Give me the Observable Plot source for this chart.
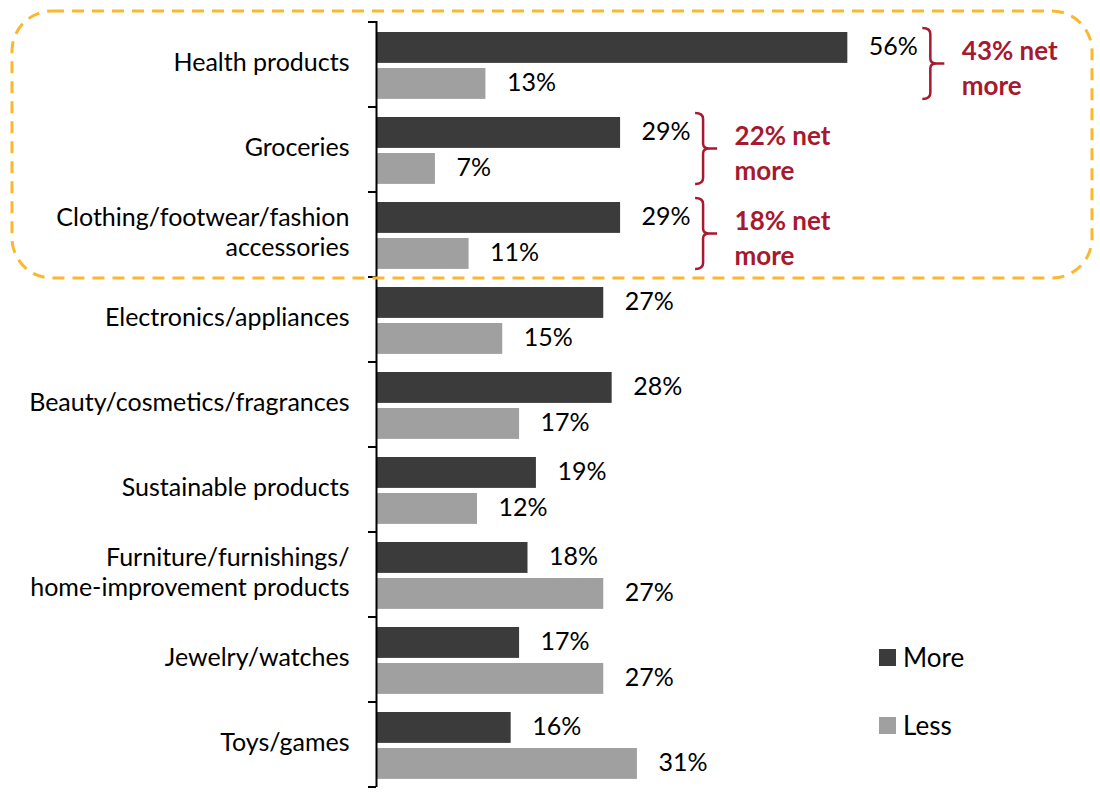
<!DOCTYPE html>
<html><head><meta charset="utf-8">
<script src="https://cdn.jsdelivr.net/npm/d3@7"></script>
<script src="https://cdn.jsdelivr.net/npm/@observablehq/plot@0.6"></script>
<style>
body{margin:0;background:#fff;font-family:Lato, sans-serif;}
#wrap{position:relative;width:1100px;height:797px;}
.legend{position:absolute;left:879px;top:644px;font-size:26px;color:#000;font-family:Lato, sans-serif;}
.item{display:flex;align-items:center;height:26px;margin-bottom:42px;}
.sw{width:17px;height:17px;margin-right:7px;}
</style></head><body><div id="wrap"></div>
<script>
const categories = [
  "Health products",
  "Groceries",
  "Clothing/footwear/fashion\naccessories",
  "Electronics/appliances",
  "Beauty/cosmetics/fragrances",
  "Sustainable products",
  "Furniture/furnishings/\nhome-improvement products",
  "Jewelry/watches",
  "Toys/games"
];
const moreValues = [56, 29, 29, 27, 28, 19, 18, 17, 16];
const lessValues = [13, 7, 11, 15, 17, 12, 27, 27, 31];
const series = ["More", "Less"];
const seriesColors = ["#3b3b3b", "#a0a0a0"];
const highlighted = categories.slice(0, 3);

const moreRows = categories.map((c, i) => ({category: c, value: moreValues[i]}));
const lessRows = categories.map((c, i) => ({category: c, value: lessValues[i]}));
const netRows = highlighted.map((c) => {
  const i = categories.indexOf(c);
  return {category: c, more: moreValues[i], less: lessValues[i]};
});

const red = "#a6192e";

function decorations(index, scales, values, dimensions) {
  const {x, y} = scales;
  const step = y(categories[1]) - y(categories[0]);
  const g = d3.create("svg:g");
  const x0 = x(0);
  const bounds = categories.map(c => y(c)).concat([y(categories[categories.length - 1]) + step]);
  g.selectAll("line.bt").data(bounds).join("line")
    .attr("x1", x0 - 8).attr("x2", x0).attr("y1", d => d).attr("y2", d => d)
    .attr("stroke", "#000").attr("stroke-width", 2);
  const top = y(highlighted[0]) - 11;
  const bottom = y(highlighted[highlighted.length - 1]) + step + 1;
  g.append("rect")
    .attr("x", 12).attr("y", top)
    .attr("width", dimensions.width - 20).attr("height", bottom - top)
    .attr("rx", 40).attr("ry", 40)
    .attr("fill", "none").attr("stroke", "#fbb82e").attr("stroke-width", 3)
    .attr("stroke-dasharray", "12 8");
  netRows.forEach(d => {
    const bx = x(d.more) + 75;
    const yt = y(d.category) + 6;
    const yb = y(d.category) + 77;
    const ym = (yt + yb) / 2;
    const p = `M${bx},${yt} Q${bx + 8},${yt} ${bx + 8},${yt + 6} L${bx + 8},${ym - 5} Q${bx + 8},${ym} ${bx + 14},${ym} L${bx + 22},${ym} M${bx + 14},${ym} Q${bx + 8},${ym} ${bx + 8},${ym + 5} L${bx + 8},${yb - 6} Q${bx + 8},${yb} ${bx},${yb}`;
    g.append("path").attr("d", p).attr("fill", "none").attr("stroke", red).attr("stroke-width", 2.5);
  });
  return g.node();
}

const chart = Plot.plot({
  width: 1100,
  height: 797,
  marginLeft: 376,
  marginRight: 219,
  marginTop: 21,
  marginBottom: 10,
  x: {domain: [0, 60], axis: null},
  y: {domain: categories, padding: 0},
  style: {fontFamily: "Lato, sans-serif", background: "white", color: "black"},
  marks: [
    Plot.barX(moreRows, {x: "value", y: "category", fill: seriesColors[0], insetTop: 10, insetBottom: 44.1}),
    Plot.barX(lessRows, {x: "value", y: "category", fill: seriesColors[1], insetTop: 46, insetBottom: 8.1}),
    Plot.ruleX([0], {stroke: "#000", strokeWidth: 2}),
    Plot.axisY({tickSize: 0, tickPadding: 27, fontSize: 25, lineHeight: 1.2, label: null, fill: "#000", dy: -4}),
    Plot.text(moreRows, {x: "value", y: "category", text: d => d.value + "%", dx: 21, dy: -18, textAnchor: "start", fontSize: 25, fill: "#000"}),
    Plot.text(lessRows, {x: "value", y: "category", text: d => d.value + "%", dx: 21, dy: 18, textAnchor: "start", fontSize: 25, fill: "#000"}),
    Plot.text(netRows, {x: "more", y: "category", text: d => `${d.more - d.less}% net\nmore`, dx: 114, dy: 1, textAnchor: "start", fontSize: 26, fontWeight: "bold", fill: red, lineHeight: 1.37}),
    decorations
  ]
});

const wrap = document.getElementById("wrap");
wrap.appendChild(chart);
const legend = document.createElement("div");
legend.className = "legend";
series.forEach((s, i) => {
  const item = document.createElement("div");
  item.className = "item";
  const sw = document.createElement("div");
  sw.className = "sw";
  sw.style.background = seriesColors[i];
  const t = document.createElement("span");
  t.textContent = s;
  item.appendChild(sw); item.appendChild(t);
  legend.appendChild(item);
});
wrap.appendChild(legend);
</script></body></html>
